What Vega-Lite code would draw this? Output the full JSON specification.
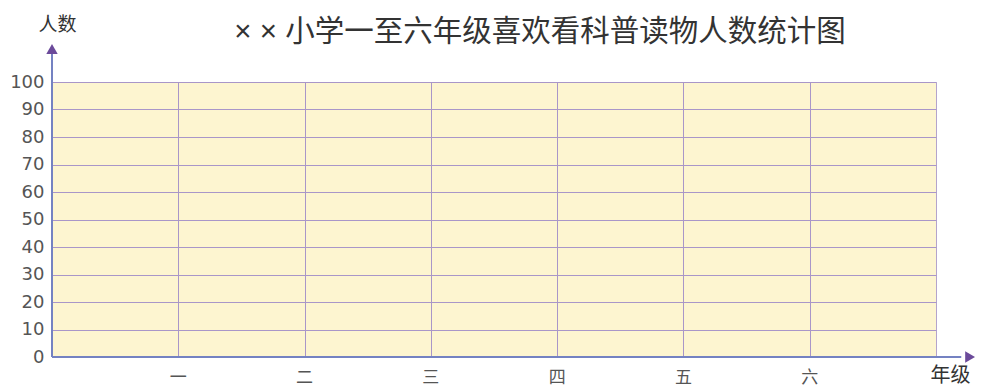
{
  "$schema": "https://vega.github.io/schema/vega-lite/v6.json",
  "width": 884,
  "height": 275,
  "autosize": {"type": "none"},
  "padding": {"left": 52, "top": 82, "right": 46, "bottom": 31},
  "background": "white",
  "view": {"fill": "#fdf5d0", "stroke": "#b4a4cc", "strokeWidth": 1},
  "config": {
    "axisX": {"values": [1, 2, 3, 4, 5, 6], "grid": true, "gridColor": "#a996c8", "gridOpacity": 1, "gridWidth": 1, "domain": false, "ticks": false, "tickSize": 0, "labels": false,
      "titleX": 898, "titleY": 18, "titleAlign": "center", "titleBaseline": "middle", "titleFont": "Noto Sans CJK SC", "titleFontSize": 20, "titleFontWeight": "normal", "titleColor": "#333333"},
    "axisY": {"values": [0, 10, 20, 30, 40, 50, 60, 70, 80, 90, 100], "grid": true, "gridColor": "#a996c8", "gridOpacity": 1, "gridWidth": 1, "domain": false, "ticks": false, "tickSize": 0, "labelOverlap": false, "labelPadding": 8, "labelFont": "DejaVu Sans", "labelFontSize": 18, "labelColor": "#555555",
      "titleAngle": 0, "titleX": 5, "titleY": -58, "titleAlign": "center", "titleBaseline": "middle", "titleFont": "Noto Sans CJK SC", "titleFontSize": 19, "titleFontWeight": "normal", "titleColor": "#333333"}
  },
  "data": {"values": [
    {"年级": "一", "序号": 1},
    {"年级": "二", "序号": 2},
    {"年级": "三", "序号": 3},
    {"年级": "四", "序号": 4},
    {"年级": "五", "序号": 5},
    {"年级": "六", "序号": 6}
  ]},
  "layer": [
    {
      "mark": {"type": "text", "font": "Noto Sans CJK SC", "fontSize": 17, "color": "#555555", "baseline": "middle", "align": "center"},
      "encoding": {
        "x": {"field": "序号", "type": "quantitative", "scale": {"domain": [0, 7], "nice": false},
          "axis": {"values": [1, 2, 3, 4, 5, 6], "title": "年级"}},
        "y": {"datum": -7.8, "type": "quantitative", "scale": {"domain": [0, 100], "nice": false},
          "axis": {"values": [0, 10, 20, 30, 40, 50, 60, 70, 80, 90, 100], "labelOverlap": false, "title": "人数"}},
        "text": {"field": "年级", "type": "nominal"}
      }
    },
    {
      "data": {"values": [{}]},
      "mark": {"type": "text", "font": "Liberation Sans, Noto Sans CJK SC", "fontSize": 29.5, "color": "#333333", "baseline": "middle", "align": "center", "text": "× ×  小学一至六年级喜欢看科普读物人数统计图"},
      "encoding": {
        "x": {"datum": 3.864, "type": "quantitative", "scale": {"domain": [0, 7], "nice": false},
          "axis": {"values": [1, 2, 3, 4, 5, 6], "title": "年级"}},
        "y": {"datum": 118.3, "type": "quantitative", "scale": {"domain": [0, 100], "nice": false},
          "axis": {"values": [0, 10, 20, 30, 40, 50, 60, 70, 80, 90, 100], "labelOverlap": false, "title": "人数"}}
      }
    },
    {
      "data": {"values": [{}]},
      "mark": {"type": "rule", "color": "#7482c2", "strokeWidth": 2, "clip": false},
      "encoding": {
        "x": {"datum": 0, "type": "quantitative", "scale": {"domain": [0, 7], "nice": false},
          "axis": {"values": [1, 2, 3, 4, 5, 6], "title": "年级"}},
        "y": {"datum": 0, "type": "quantitative", "scale": {"domain": [0, 100], "nice": false},
          "axis": {"values": [0, 10, 20, 30, 40, 50, 60, 70, 80, 90, 100], "labelOverlap": false, "title": "人数"}},
        "y2": {"datum": 111}
      }
    },
    {
      "data": {"values": [{}]},
      "mark": {"type": "rule", "color": "#7482c2", "strokeWidth": 2, "clip": false},
      "encoding": {
        "x": {"datum": 0, "type": "quantitative", "scale": {"domain": [0, 7], "nice": false},
          "axis": {"values": [1, 2, 3, 4, 5, 6], "title": "年级"}},
        "x2": {"datum": 7.2},
        "y": {"datum": 0, "type": "quantitative", "scale": {"domain": [0, 100], "nice": false},
          "axis": {"values": [0, 10, 20, 30, 40, 50, 60, 70, 80, 90, 100], "labelOverlap": false, "title": "人数"}}
      }
    },
    {
      "data": {"values": [{}]},
      "mark": {"type": "point", "shape": "triangle-up", "filled": true, "color": "#6b4a9a", "opacity": 1, "size": 130, "clip": false},
      "encoding": {
        "x": {"datum": 0, "type": "quantitative", "scale": {"domain": [0, 7], "nice": false},
          "axis": {"values": [1, 2, 3, 4, 5, 6], "title": "年级"}},
        "y": {"datum": 112, "type": "quantitative", "scale": {"domain": [0, 100], "nice": false},
          "axis": {"values": [0, 10, 20, 30, 40, 50, 60, 70, 80, 90, 100], "labelOverlap": false, "title": "人数"}}
      }
    },
    {
      "data": {"values": [{}]},
      "mark": {"type": "point", "shape": "triangle-right", "filled": true, "color": "#6b4a9a", "opacity": 1, "size": 130, "clip": false},
      "encoding": {
        "x": {"datum": 7.27, "type": "quantitative", "scale": {"domain": [0, 7], "nice": false},
          "axis": {"values": [1, 2, 3, 4, 5, 6], "title": "年级"}},
        "y": {"datum": 0, "type": "quantitative", "scale": {"domain": [0, 100], "nice": false},
          "axis": {"values": [0, 10, 20, 30, 40, 50, 60, 70, 80, 90, 100], "labelOverlap": false, "title": "人数"}}
      }
    }
  ]
}
